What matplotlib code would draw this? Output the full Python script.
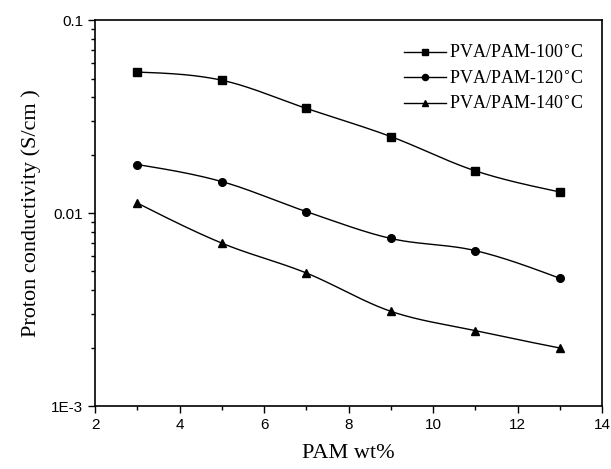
import numpy as np
import matplotlib
matplotlib.use('Agg')
from matplotlib import pyplot as plt
from matplotlib.ticker import FixedLocator, FixedFormatter, LogLocator, NullFormatter, MultipleLocator

# PAM content (wt%)
pam = [3, 5, 7, 9, 11, 13]

# proton conductivity (S/cm)
pva_100 = [0.054, 0.049, 0.035, 0.025, 0.0166, 0.0129]
pva_120 = [0.0179, 0.0146, 0.0102, 0.0074, 0.0064, 0.0046]
pva_140 = [0.0113, 0.0070, 0.0049, 0.0031, 0.00246, 0.0020]

labels = ["PVA/PAM-100$^{\\circ}$C", "PVA/PAM-120$^{\\circ}$C", "PVA/PAM-140$^{\\circ}$C"]
markers = ["s", "o", "^"]


def smooth(x, y, n=300):
    # catmull-rom style hermite curve through the points, in log space
    x = np.asarray(x, float)
    y = np.log10(np.asarray(y, float))
    h = np.diff(x)
    d = np.diff(y) / h
    m = np.zeros_like(y)
    m[1:-1] = (y[2:] - y[:-2]) / (x[2:] - x[:-2])
    m[0] = (3 * d[0] - m[1]) / 2
    m[-1] = (3 * d[-1] - m[-2]) / 2
    xs = np.linspace(x[0], x[-1], n)
    idx = np.clip(np.searchsorted(x, xs) - 1, 0, len(x) - 2)
    t = (xs - x[idx]) / h[idx]
    h00 = 2 * t ** 3 - 3 * t ** 2 + 1
    h10 = t ** 3 - 2 * t ** 2 + t
    h01 = -2 * t ** 3 + 3 * t ** 2
    h11 = t ** 3 - t ** 2
    ys = h00 * y[idx] + h10 * h[idx] * m[idx] + h01 * y[idx + 1] + h11 * h[idx] * m[idx + 1]
    return xs, 10 ** ys


fig = plt.figure(figsize=(6.11, 4.69), dpi=100)
ax = fig.add_axes([0.1555, 0.1343, 0.8298, 0.822])

for series, mk, lab in zip([pva_100, pva_120, pva_140], markers, labels):
    xs, ys = smooth(pam, series)
    ax.plot(xs, ys, color='black', lw=1.0)
    ax.plot(pam, series, linestyle='none', marker=mk, color='black', markersize=5.5)
    # legend proxy: line with marker in the middle
    ax.plot([], [], color='black', lw=1.0, marker=mk, markersize=5.5, label=lab)

ax.set_yscale('log')
ax.set_xlim(2, 14)
ax.set_ylim(1e-3, 0.1)

ax.xaxis.set_major_locator(MultipleLocator(2))
ax.xaxis.set_minor_locator(MultipleLocator(1))
ax.yaxis.set_major_locator(FixedLocator([1e-3, 1e-2, 1e-1]))
ax.yaxis.set_major_formatter(FixedFormatter(["1E-3", "0.01", "0.1"]))
ax.yaxis.set_minor_locator(LogLocator(base=10, subs=np.arange(2, 10)))
ax.yaxis.set_minor_formatter(NullFormatter())

ax.tick_params(which='both', direction='out', top=False, right=False, width=1.0)
ax.tick_params(which='major', length=5, labelsize=11)
ax.tick_params(which='minor', length=3)
for lbl in ax.get_xticklabels() + ax.get_yticklabels():
    lbl.set_family('Liberation Sans')
for s in ax.spines.values():
    s.set_linewidth(1.2)

ax.set_xlabel('PAM wt%', family='Liberation Serif', fontsize=16, labelpad=9)
ax.set_ylabel('Proton conductivity (S/cm )', family='Liberation Serif', fontsize=16, labelpad=7)

leg = ax.legend(loc='upper right', frameon=False, prop={'family': 'Liberation Serif', 'size': 13},
                handlelength=2.3, handletextpad=0.2, labelspacing=0.45,
                borderpad=0, borderaxespad=0,
                bbox_to_anchor=(584 / 611, 1 - 45 / 469), bbox_transform=fig.transFigure,
                markerscale=0.8)

plt.savefig('out.png', dpi=100)
plt.close()
